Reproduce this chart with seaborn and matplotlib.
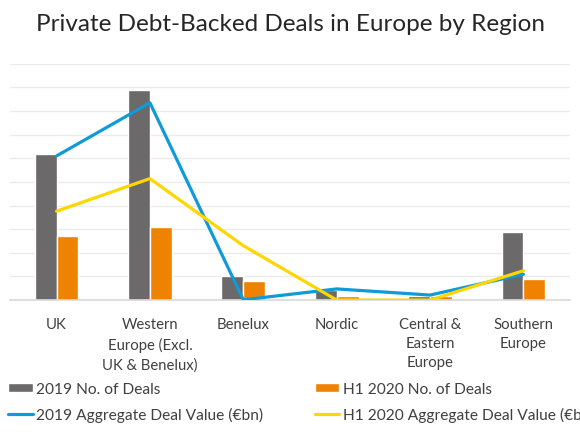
import pandas as pd
import numpy as np
import matplotlib
matplotlib.use("Agg")
import matplotlib.pyplot as plt
import seaborn as sns

# datos (escala aproximada)
regiones = ["UK", "Western\nEurope (Excl.\nUK & Benelux)", "Benelux", "Nordic",
            "Central &\nEastern\nEurope", "Southern\nEurope"]
deals_2019 = [62, 89, 10, 4.4, 1.8, 29]
deals_h1_2020 = [27, 31, 8, 1.6, 1.6, 9]
valor_2019 = [6.1, 8.35, 0.01, 0.47, 0.21, 1.09]
valor_h1_2020 = [3.76, 5.14, 2.3, 0.0, 0.0, 1.24]

gris = "#6b6969"
naranja = "#ef8200"
azul = "#0f9ad8"
amarillo = "#ffd600"

df_bar = pd.DataFrame({
    "region": regiones * 2,
    "deals": deals_2019 + deals_h1_2020,
    "serie": ["2019 No. of Deals"] * len(regiones) + ["H1 2020 No. of Deals"] * len(regiones),
})

sns.set_theme(style="white")
plt.rcParams["font.family"] = ["Lato", "DejaVu Sans"]

fig = plt.figure(figsize=(5.8, 4.35), dpi=100)
ax = fig.add_axes([0.017, 0.308, 0.966, 0.543])

sns.barplot(data=df_bar, x="region", y="deals", hue="serie", order=regiones,
            palette=[gris, naranja], width=0.47, gap=0, saturation=1, ax=ax)
ax.set_ylim(0, 100)
ax.set_xlim(-0.5, len(regiones) - 0.5)
ax.set_yticks(np.arange(0, 101, 10))
ax.yaxis.grid(True, color="#ebebeb", linewidth=1)
ax.set_axisbelow(True)
ax.set_yticklabels([])
ax.set_xlabel("")
ax.set_ylabel("")
ax.set_xticks(range(len(regiones)))
ax.set_xticklabels(regiones, linespacing=1.48)
ax.tick_params(axis="x", length=0, pad=12, labelsize=10.7, colors="#404040")
ax.tick_params(axis="y", length=0)
for s in ["top", "left", "right"]:
    ax.spines[s].set_visible(False)
ax.spines["bottom"].set_color("#d9d9d9")
ax.spines["bottom"].set_linewidth(1.2)

ax2 = ax.twinx()
sns.lineplot(x=regiones, y=valor_2019, sort=False, color=azul, linewidth=2.3,
             label="2019 Aggregate Deal Value (€bn)", ax=ax2)
sns.lineplot(x=regiones, y=valor_h1_2020, sort=False, color=amarillo, linewidth=2.3,
             label="H1 2020 Aggregate Deal Value (€bn)", ax=ax2)
ax2.set_ylim(0, 10)
ax2.set_yticks([])
ax2.set_ylabel("")
for s in ax2.spines.values():
    s.set_visible(False)

h1, l1 = ax.get_legend_handles_labels()
h2, l2 = ax2.get_legend_handles_labels()
ax.get_legend().remove()
ax2.get_legend().remove()

handles = [h1[0], h2[0], h1[1], h2[1]]
labels = [l1[0], l2[0], l1[1], l2[1]]
fig.legend(handles, labels, loc="upper left", bbox_to_anchor=(0.014, 0.12), ncol=2,
           frameon=False, fontsize=11.2, handlelength=1.6, handleheight=0.5,
           handletextpad=0.2, columnspacing=3.3, labelspacing=0.7,
           borderaxespad=0, borderpad=0, labelcolor="#404040")

fig.suptitle("Private Debt-Backed Deals in Europe by Region", y=0.967,
             fontsize=17.5, color="#262626")

fig.savefig("out.png", dpi=100)
